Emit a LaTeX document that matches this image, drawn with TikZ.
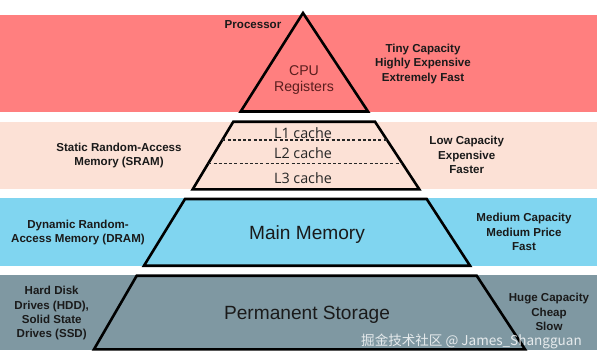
\documentclass[tikz,border=0pt]{standalone}
\usepackage{fontspec}
\setmainfont{Liberation Sans}
\newfontfamily\osans{Open Sans}
\newfontfamily\cjk{Noto Sans CJK SC}
\definecolor{bandred}{HTML}{FF7F7F}
\definecolor{bandpink}{HTML}{FCE1D6}
\definecolor{bandblue}{HTML}{80D5F0}
\definecolor{bandgray}{HTML}{7F98A2}
\definecolor{txtdark}{HTML}{1A1A1A}
\definecolor{cputxt}{HTML}{5A1E1E}
\begin{document}
\begin{tikzpicture}[x=1bp,y=-1bp,
  band/.style={draw=none},
  shapeline/.style={draw=black,line width=2.6bp,line join=miter},
  dashline/.style={draw=black!85,line width=1.2bp,dash pattern=on 3bp off 2.2bp},
  lbl/.style={font=\bfseries\fontsize{11.6}{14.4}\selectfont,align=center,inner sep=0pt,text=txtdark},
  big/.style={font=\fontsize{19.2}{22}\selectfont,inner sep=0pt,text=txtdark},
  cache/.style={font=\osans\fontsize{14.4}{16}\selectfont,inner sep=0pt,text=black!85},
  wm/.style={font=\cjk\fontsize{13.6}{16}\selectfont,inner sep=0pt,text=white,text opacity=0.8,anchor=west}]
\useasboundingbox (0,0) rectangle (612,360);
\fill[white] (0,0) rectangle (612,360);
% bands
\fill[bandred]  (0,15)    rectangle (597,112);
\fill[bandpink] (0,122)   rectangle (597,189.3);
\fill[bandblue] (0,198.3) rectangle (597,265.5);
\fill[bandgray] (0,275)   rectangle (597,350);
% pyramid pieces
\draw[shapeline,fill=bandred] (303,13) -- (368,111.5) -- (240.7,111.5) -- cycle;
\draw[shapeline,fill=bandpink] (233.3,121.7) -- (375,121.7) -- (419.3,189.3) -- (192.7,189.3) -- cycle;
\draw[dashline] (222.3,140) -- (387,140);
\draw[dashline] (208.3,163.3) -- (402.3,163.3);
\draw[shapeline,fill=bandblue] (185,199) -- (426.7,199) -- (470,265.7) -- (144,265.7) -- cycle;
\draw[shapeline,fill=bandgray] (136.7,275.7) -- (476.7,275.7) -- (525,349.3) -- (94,349.3) -- cycle;
% texts inside
\node[font=\fontsize{14.2}{15.6}\selectfont,align=center,inner sep=0pt,text=cputxt] (cpu) at (304,80) {CPU\\Registers};
\node[cache] (l1) at (303,132.7) {L1 cache};
\node[cache] (l2) at (303,153.3) {L2 cache};
\node[cache] (l3) at (303,178.3) {L3 cache};
\node[big] (mm) at (307,235) {Main Memory};
\node[big] (ps) at (307,315) {Permanent Storage};
% left labels
\node[lbl] (proc) at (253,25) {Processor};
\node[lbl] (sram) at (119,155.5) {Static Random-Access\\Memory (SRAM)};
\node[lbl] (dram) at (78,232.7) {Dynamic Random-\\Access Memory (DRAM)};
\node[lbl] (hdd) at (51.7,313.3) {Hard Disk\\Drives (HDD),\\Solid State\\Drives (SSD)};
% right labels
\node[lbl] (r1) at (423,64) {Tiny Capacity\\Highly Expensive\\Extremely Fast};
\node[lbl] (r2) at (466.7,155) {Low Capacity\\Expensive\\Faster};
\node[lbl] (r3) at (524,232) {Medium Capacity\\Medium Price\\Fast};
\node[lbl] (r4) at (549,312) {Huge Capacity\\Cheap\\Slow};
% watermark
\node[wm] (wmark) at (361,341) {掘金技术社区 @ James\_Shangguan};
\end{tikzpicture}
\end{document}
